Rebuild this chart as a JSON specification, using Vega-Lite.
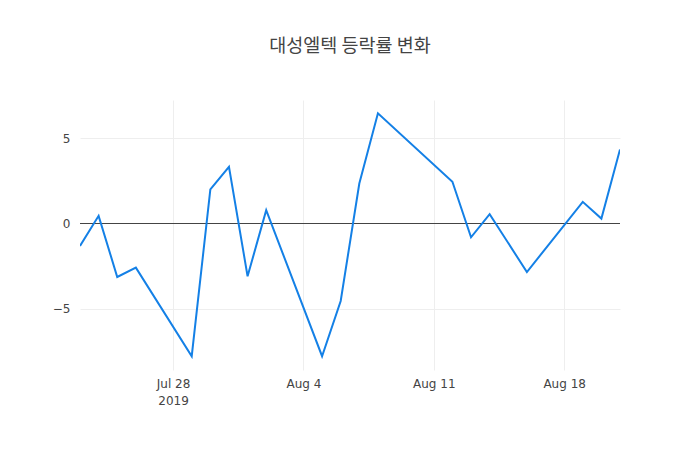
{
  "$schema": "https://vega.github.io/schema/vega-lite/v6.json",
  "width": 540,
  "height": 270,
  "autosize": {"type": "none"},
  "padding": {"left": 80, "top": 100, "right": 80, "bottom": 80},
  "background": "white",
  "title": {
    "text": "대성엘텍 등락률 변화",
    "font": "Noto Sans CJK KR",
    "fontSize": 18.5,
    "fontWeight": "normal",
    "color": "#444",
    "anchor": "middle",
    "offset": 45
  },
  "data": {
    "values": [
      {"date": "2019-07-23", "rate": -1.32},
      {"date": "2019-07-24", "rate": 0.45},
      {"date": "2019-07-25", "rate": -3.14},
      {"date": "2019-07-26", "rate": -2.59},
      {"date": "2019-07-29", "rate": -7.79},
      {"date": "2019-07-30", "rate": 2.0},
      {"date": "2019-07-31", "rate": 3.33},
      {"date": "2019-08-01", "rate": -3.1},
      {"date": "2019-08-02", "rate": 0.78},
      {"date": "2019-08-05", "rate": -7.79},
      {"date": "2019-08-06", "rate": -4.55},
      {"date": "2019-08-07", "rate": 2.35},
      {"date": "2019-08-08", "rate": 6.47},
      {"date": "2019-08-12", "rate": 2.45},
      {"date": "2019-08-13", "rate": -0.81},
      {"date": "2019-08-14", "rate": 0.55},
      {"date": "2019-08-16", "rate": -2.85},
      {"date": "2019-08-19", "rate": 1.27},
      {"date": "2019-08-20", "rate": 0.29},
      {"date": "2019-08-21", "rate": 4.35}
    ]
  },
  "encoding": {
    "y": {
      "field": "rate",
      "type": "quantitative",
      "scale": {"domain": [-8.6, 7.25], "nice": false, "zero": false},
      "axis": {
        "title": null,
        "values": [-5, 0, 5],
        "labelExpr": "datum.value < 0 ? '−' + abs(datum.value) : datum.value",
        "grid": true,
        "gridColor": {"condition": {"test": "datum.value === 0", "value": "transparent"}, "value": "#eee"},
        "domain": false,
        "ticks": false,
        "labelPadding": 10
      }
    }
  },
  "layer": [
    {
      "mark": {"type": "rule", "color": "#444", "strokeWidth": 1},
      "encoding": {"y": {"datum": 0, "type": "quantitative"}}
    },
    {
      "mark": {"type": "line", "color": "#1480e6", "strokeWidth": 2, "clip": true},
      "encoding": {
        "x": {
          "field": "date",
          "type": "temporal",
          "scale": {
            "type": "utc",
            "domain": [
              {"year": 2019, "month": 7, "date": 23, "utc": true},
              {"year": 2019, "month": 8, "date": 21, "utc": true}
            ]
          },
          "axis": {
            "title": null,
            "values": [
              {"year": 2019, "month": 7, "date": 28, "utc": true},
              {"year": 2019, "month": 8, "date": 4, "utc": true},
              {"year": 2019, "month": 8, "date": 11, "utc": true},
              {"year": 2019, "month": 8, "date": 18, "utc": true}
            ],
            "labelExpr": "utcmonth(datum.value) == 6 ? [utcFormat(datum.value, '%b %-d'), '2019'] : utcFormat(datum.value, '%b %-d')",
            "grid": true,
            "gridColor": "#eee",
            "domain": false,
            "ticks": false,
            "labelPadding": 8,
            "labelLineHeight": 17
          }
        },
        "y": {"field": "rate", "type": "quantitative"}
      }
    }
  ],
  "config": {
    "view": {"stroke": null},
    "font": "DejaVu Sans",
    "axis": {"labelFont": "DejaVu Sans", "labelFontSize": 12, "labelColor": "#444"}
  }
}
